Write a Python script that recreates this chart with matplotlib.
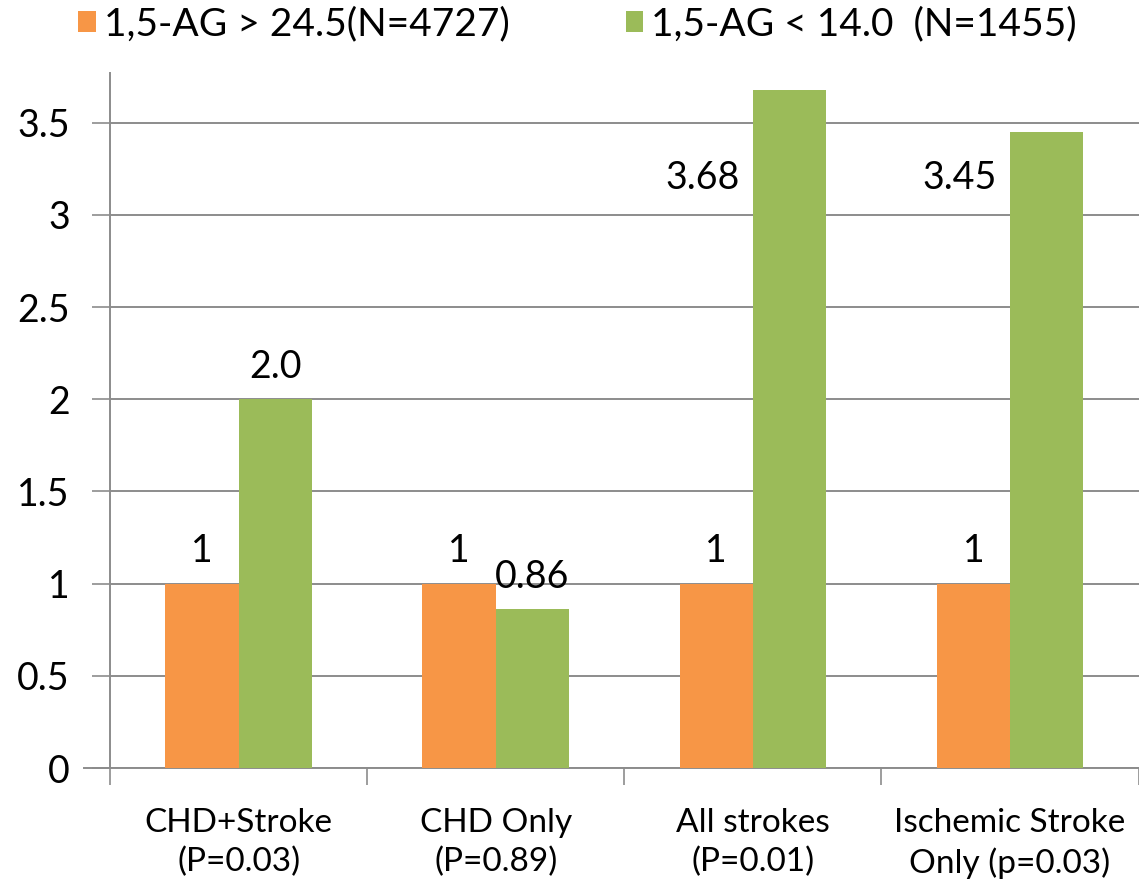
import matplotlib.pyplot as plt
import numpy as np

# hazard ratios by outcome, reference group vs low 1,5-AG group
categories = ["CHD+Stroke\n(P=0.03)", "CHD Only\n(P=0.89)",
              "All strokes\n(P=0.01)", "Ischemic Stroke\nOnly (p=0.03)"]
high_ag = [1, 1, 1, 1]
low_ag = [2.0, 0.86, 3.68, 3.45]
high_labels = ["1", "1", "1", "1"]
low_labels = ["2.0", "0.86", "3.68", "3.45"]
series_names = ["1,5-AG > 24.5(N=4727)", "1,5-AG < 14.0  (N=1455)"]
yticks = [0, 0.5, 1, 1.5, 2, 2.5, 3, 3.5]

ORANGE = "#F79646"
GREEN = "#9BBB59"
GRID = "#8C8C8C"

plt.rcParams["font.family"] = ["Lato", "DejaVu Sans"]

fig = plt.figure(figsize=(11.39, 8.88), dpi=100)
ax = fig.add_axes([0.0966, 0.1351, 0.903, 0.7827])

x = np.arange(len(categories))
width = 0.285
ax.bar(x - width / 2, high_ag, width, color=ORANGE, zorder=3,
       label=series_names[0])
ax.bar(x + width / 2, low_ag, width, color=GREEN, zorder=3,
       label=series_names[1])

ax.set_xlim(-0.5, len(categories) - 0.5)
ax.set_ylim(0, 3.77)
ax.set_yticks(yticks)
ax.set_yticklabels([f"{t:g}" for t in yticks])
ax.yaxis.grid(True, color=GRID, linewidth=1.4, zorder=0)

# category separators on the x axis
ax.set_xticks(np.arange(len(categories) + 1) - 0.5)
ax.set_xticklabels([])
ax.set_xticks(x, minor=True)
ax.set_xticklabels(categories, minor=True, fontsize=24, linespacing=1.35)
ax.tick_params(axis="x", which="minor", length=0, pad=29)
ax.tick_params(axis="x", which="major", length=12, width=1.2, color=GRID,
               direction="out")
ax.tick_params(axis="y", length=13, width=1.2, color=GRID, pad=16,
               labelsize=27)

for side in ["top", "right"]:
    ax.spines[side].set_visible(False)
for side in ["left", "bottom"]:
    ax.spines[side].set_color(GRID)
    ax.spines[side].set_linewidth(1.4)
ax.spines["bottom"].set_bounds(-0.5 - 0.1, len(categories) - 0.5)

# value labels
for i in range(len(categories)):
    ax.text(x[i] - width / 2, high_ag[i] + 0.08, high_labels[i],
            ha="center", va="bottom", fontsize=27, zorder=4)
    if low_ag[i] > 3:
        ax.text(x[i] - 0.05, 3.2, low_labels[i], ha="right", va="center",
                fontsize=27, zorder=4)
    else:
        ax.text(x[i] + width / 2, low_ag[i] + 0.08, low_labels[i],
                ha="center", va="bottom", fontsize=27, zorder=4)

fig.legend(loc="upper left", bbox_to_anchor=(0.038, 1.032), ncol=2,
           frameon=False, fontsize=28, handlelength=0.45,
           handleheight=0.45, handletextpad=0.2, columnspacing=3.0)

plt.savefig("out.png", dpi=100)
